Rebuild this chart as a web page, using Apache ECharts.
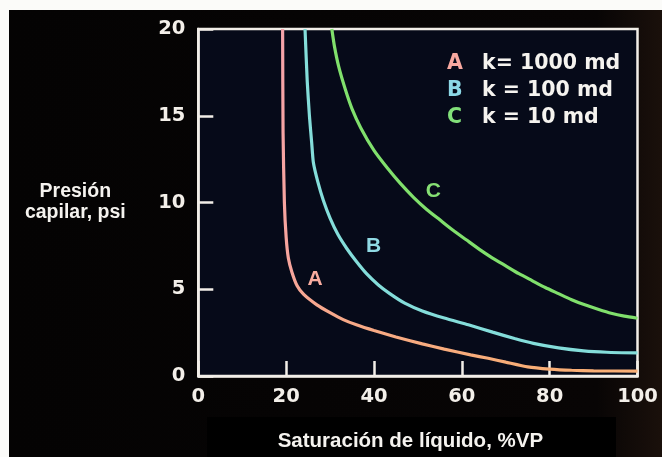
<!DOCTYPE html>
<html>
<head>
<meta charset="utf-8">
<script src="https://cdn.jsdelivr.net/npm/echarts@6/dist/echarts.min.js"></script>
<style>
html,body{margin:0;padding:0;background:#fbfbf9;width:662px;height:457px;overflow:hidden;}
#c{position:absolute;left:9px;top:10px;width:653px;height:447px;}
</style>
</head>
<body>
<div id="c"></div>
<script>
// Curve A: k = 1000 md  [saturation %, capillary pressure psi]
const curveA = [[19.2,20],[19.3,14],[19.6,10],[20.0,8],[20.5,6.8],[21.3,6.0],[22.5,5.2],[24,4.7],[27,4.1],[30,3.65],[33,3.25],[36,2.95],[40,2.62],[45,2.25],[51,1.85],[56,1.55],[62,1.22],[66,1.02],[70,0.8],[75,0.53],[80,0.4],[85,0.33],[90,0.3],[100,0.28]];
// Curve B: k = 100 md
const curveB = [[24.3,20],[24.8,17],[25.3,15],[25.8,13.5],[26.2,12.3],[27.2,11.2],[28.5,10.1],[30,9.1],[31.8,8.15],[33.8,7.35],[36,6.6],[38.3,5.9],[41,5.25],[43.6,4.75],[47,4.2],[51,3.75],[56,3.34],[61.5,2.95],[67,2.53],[72,2.16],[76.3,1.88],[82,1.62],[87.7,1.45],[93,1.37],[100,1.33]];
// Curve C: k = 10 md
const curveC = [[30.4,20],[31,19.0],[32,17.8],[33.5,16.5],[35,15.4],[37,14.3],[40,13.0],[43,12.0],[46,11.1],[49,10.3],[52,9.6],[55,9.0],[58,8.4],[61,7.85],[64,7.3],[67,6.8],[70,6.35],[73,5.9],[76,5.5],[79,5.1],[82,4.75],[85,4.4],[88,4.1],[91,3.85],[94,3.62],[97,3.45],[100,3.33]];
const seriesNames = ['A','B','C'];
const permeabilityTexts = ['k= 1000 md','k = 100 md','k = 10 md'];
// In-plot curve letter positions [saturation, psi]
const letterPositions = [[26.6,5.56],[39.9,7.47],[53.5,10.65]];
const xTicks = [0,20,40,60,80,100];
const yTicks = [0,5,10,15,20];
const xTitle = 'Saturación de líquido, %VP';
const yTitle = 'Presión\ncapilar, psi';

const colA = new echarts.graphic.LinearGradient(0,0,0,1,[
  {offset:0,color:'#f5a3aa'},{offset:0.7,color:'#f6a49c'},{offset:1,color:'#f8ae74'}]);
const colB = '#84ddda';
const colC = '#80e06c';
const letterColors = ['#f8aca0','#90dae4','#86e074'];
const legendColors = {A:'#f7a8a0',B:'#8cd8e6',C:'#82e07a'};
const plotBg = '#060a19';

const chart = echarts.init(document.getElementById('c'));
const tickFont = {fontFamily:'DejaVu Sans',fontWeight:'bold',fontSize:19.5,color:'#f3efe9'};
const curves = [curveA,curveB,curveC];
const lineColors = [colA,colB,colC];

const rich = {k:{color:'#f5f3ef',fontFamily:'DejaVu Sans',fontWeight:'bold',fontSize:20.5,lineHeight:22}};
seriesNames.forEach(n=>{rich[n]={color:legendColors[n],width:35,fontFamily:'DejaVu Sans',fontWeight:'bold',fontSize:20.5,lineHeight:22};});

const option = {
  backgroundColor:new echarts.graphic.LinearGradient(0,0,1,0,[
    {offset:0,color:'#040303'},{offset:0.9,color:'#080505'},{offset:1,color:'#1a100b'}]),
  animation:false,
  grid:{left:189.3,top:19,right:24.5,bottom:78,show:true,backgroundColor:plotBg,borderColor:'#f2eee8',borderWidth:2.5},
  graphic:[{type:'rect',z:-1,shape:{x:198,y:407,width:409,height:40},style:{fill:'#000000'}}],
  legend:{
    orient:'vertical',left:428,top:38,icon:'none',itemWidth:0,itemHeight:14,itemGap:6,
    selectedMode:false,data:seriesNames,
    formatter:n=>`{${n}|${n}}{k|${permeabilityTexts[seriesNames.indexOf(n)]}}`,
    textStyle:{rich:rich}
  },
  xAxis:{
    type:'value',min:xTicks[0],max:xTicks[xTicks.length-1],interval:20,
    name:xTitle,nameLocation:'middle',nameGap:55,
    nameTextStyle:{fontFamily:'Liberation Sans',fontWeight:'bold',fontSize:20.5,color:'#f5f3ef',align:'center',padding:[0,15,0,0]},
    axisLine:{show:true,lineStyle:{color:'#f2eee8',width:2.5}},
    axisTick:{show:true,inside:true,length:15,lineStyle:{color:'#f2eee8',width:2.5}},
    axisLabel:Object.assign({margin:11},tickFont),
    splitLine:{show:false}
  },
  yAxis:{
    type:'value',min:yTicks[0],max:yTicks[yTicks.length-1],interval:5,
    name:yTitle,nameLocation:'middle',nameGap:123,nameRotate:0,
    nameTextStyle:{fontFamily:'Liberation Sans',fontWeight:'bold',fontSize:19.5,lineHeight:21,color:'#f5f3ef',align:'center',verticalAlign:'middle'},
    axisLine:{show:true,lineStyle:{color:'#f2eee8',width:2.5}},
    axisTick:{show:true,inside:true,length:15,lineStyle:{color:'#f2eee8',width:2.5}},
    axisLabel:Object.assign({margin:13},tickFont),
    splitLine:{show:false}
  },
  series: seriesNames.map((n,i)=>({
    name:n,type:'line',data:curves[i],showSymbol:false,symbol:'none',smooth:0.2,
    lineStyle:{color:lineColors[i],width:3.2},itemStyle:{color:typeof lineColors[i]==='string'?lineColors[i]:'#f6a49c'},
    z:3
  })).concat([{
    name:'labels',type:'scatter',symbolSize:1,itemStyle:{color:plotBg,opacity:1},
    emphasis:{disabled:true},
    data:letterPositions.map((p,i)=>({value:p,name:seriesNames[i],
      label:{show:true,position:'inside',formatter:seriesNames[i],color:letterColors[i],opacity:1,
        textBorderWidth:0,textBorderColor:'transparent',
        fontFamily:'Liberation Sans',fontWeight:'bold',fontSize:21}})),
    z:4
  }])
};
chart.setOption(option);
</script>
</body>
</html>
